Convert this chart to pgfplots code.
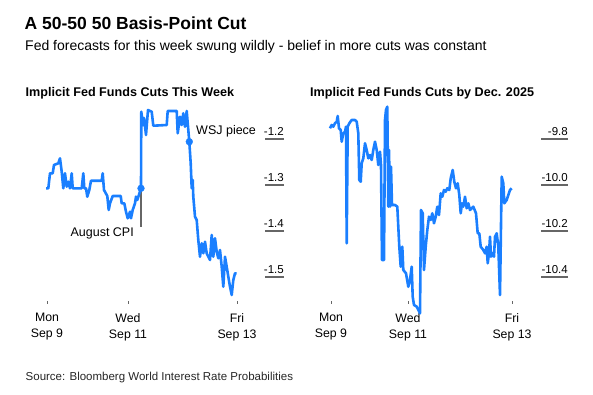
\documentclass[border=0pt]{standalone}
\usepackage{pgfplots}
\pgfplotsset{compat=1.18}
\usepackage{fontspec}
\setmainfont{Liberation Sans}
\definecolor{bbblue}{HTML}{1A7FFF}
\definecolor{tickgray}{HTML}{666666}
\begin{document}
\begin{tikzpicture}
\useasboundingbox (0,0) rectangle (593bp,395bp);
% titles
\node[anchor=base west, inner sep=0pt, font=\fontsize{17.5bp}{21bp}\selectfont\bfseries] at (24.5bp,365.7bp) {A 50-50 50 Basis-Point Cut};
\node[anchor=base west, inner sep=0pt, font=\fontsize{14bp}{17bp}\selectfont] at (25bp,344.3bp) {Fed forecasts for this week swung wildly - belief in more cuts was constant};
\node[anchor=base west, inner sep=0pt, font=\fontsize{12.6bp}{15bp}\selectfont\bfseries] at (25.5bp,298.3bp) {Implicit Fed Funds Cuts This Week};
\node[anchor=base west, inner sep=0pt, font=\fontsize{12.6bp}{15bp}\selectfont\bfseries] at (310bp,298.3bp) {Implicit Fed Funds Cuts by Dec. 2025};
\node[anchor=base west, inner sep=0pt, font=\fontsize{11.5bp}{14bp}\selectfont, text=black!85] at (25.5bp,15bp) {Source: Bloomberg World Interest Rate Probabilities};

\pgfplotsset{
  bbstyle/.style={
    anchor=south west, scale only axis, clip=false,
    axis line style={draw=none},
    tick align=inside,
    xtick pos=bottom, ytick pos=right, yticklabel pos=right,
    xtick style={draw=tickgray, line width=0.9bp, /pgfplots/major tick length=3bp},
    ytick style={draw=tickgray, line width=1.1bp},
    yticklabel style={anchor=south east, inner sep=0pt, yshift=3bp, font=\fontsize{11.5bp}{13bp}\selectfont},
    xticklabel style={align=center, anchor=north, inner sep=0pt, yshift=-9bp, font=\fontsize{12.3bp}{16bp}\selectfont},
    minor tick num=0,
  }
}

\begin{axis}[bbstyle,
  at={(35bp,91bp)}, width=249bp, height=199bp,
  xmin=35, xmax=284, ymin=-1.558696, ymax=-1.126087,
  xtick={47,128,237}, xticklabels={{Mon\\Sep 9},{Wed\\Sep 11},{Fri\\Sep 13}},
  ytick={-1.5,-1.4,-1.3,-1.2}, yticklabels={-1.5,-1.4,-1.3,-1.2},
  ytick style={/pgfplots/major tick length=19bp},
]
\addplot[draw=tickgray, line width=1.1bp] coordinates {(141,-1.3072) (141,-1.3913)};
\addplot[draw=bbblue, line width=2.6bp, line join=round] coordinates {
(46,-1.3072) (48.3,-1.3072) (50,-1.2746) (52.7,-1.2746) (54,-1.2565) (58.3,-1.2528)
(60,-1.242) (61.7,-1.2711) (63.3,-1.3072) (65,-1.2746) (66.7,-1.3037) (68.3,-1.2928)
(70,-1.3072) (71.7,-1.2746) (72.7,-1.3072) (81.7,-1.3072) (83.3,-1.2746) (84.3,-1.3072)
(86,-1.3072) (87.3,-1.3254) (89.3,-1.3109) (91,-1.2907) (101.7,-1.2907) (102.7,-1.2746)
(104,-1.3109) (107.3,-1.3239) (108.7,-1.3543) (110,-1.3398) (112.7,-1.3239) (120.7,-1.3239)
(121.7,-1.3398) (124.3,-1.3398) (126,-1.358) (127.7,-1.3724) (130,-1.358) (131,-1.3724)
(132.7,-1.3543) (135,-1.3398) (136,-1.3254) (137.3,-1.3326) (141,-1.3072)
(141.3,-1.1407) (143,-1.1696) (144,-1.1543) (146,-1.1913) (148,-1.137) (151.7,-1.1407)
(153.3,-1.1711) (166.7,-1.1696) (167.7,-1.1391) (176.7,-1.1391) (177.7,-1.1876) (180,-1.1515)
(181.7,-1.1696) (183.3,-1.1441) (185,-1.1733) (186.7,-1.1391) (189.3,-1.2059)
(190.7,-1.2528) (191.7,-1.3072) (192.7,-1.2891) (193.3,-1.3254) (195,-1.3689) (196.7,-1.3761)
(198.3,-1.4196) (200,-1.4559) (201.7,-1.4267) (203.3,-1.4485) (205,-1.4233) (206.7,-1.4485)
(210,-1.463) (211.7,-1.4087) (213.3,-1.4559) (215,-1.4159) (216.7,-1.445) (218.3,-1.4593)
(220,-1.4413) (221.7,-1.4776) (223.3,-1.5211) (225,-1.4559) (226.7,-1.4776) (228.3,-1.4993)
(230,-1.5211) (231.7,-1.5391) (233.3,-1.5065) (235,-1.492) (236.7,-1.492)
};
\addplot[only marks, mark=*, mark size=3.4bp, color=bbblue] coordinates {(141,-1.3072) (189.3,-1.2059)};
\node[anchor=base west, inner sep=0pt, font=\fontsize{12.5bp}{15bp}\selectfont] at (axis cs:196,-1.1898) {WSJ piece};
\node[anchor=base east, inner sep=0pt, font=\fontsize{12.5bp}{15bp}\selectfont] at (axis cs:134,-1.4124) {August CPI};
\end{axis}

\begin{axis}[bbstyle,
  at={(320bp,91bp)}, width=248bp, height=199bp,
  xmin=320, xmax=568, ymin=-10.517391, ymax=-9.652174,
  xtick={331,408,512}, xticklabels={{Mon\\Sep 9},{Wed\\Sep 11},{Fri\\Sep 13}},
  ytick={-10.4,-10.2,-10.0,-9.8}, yticklabels={-10.4,-10.2,-10.0,-9.8},
  ytick style={/pgfplots/major tick length=27bp},
]
\addplot[draw=bbblue, line width=2.6bp, line join=round] coordinates {
(330,-9.7535) (331.7,-9.7391) (333.3,-9.7465) (335,-9.7317) (336.7,-9.7248) (337.7,-9.70)
(339,-9.7535) (340.7,-9.7609) (341.7,-9.8117) (343.3,-9.7752) (345,-9.7683) (346,-9.7465)
(346.7,-10.2535) (347.7,-9.7465) (349.3,-9.7317) (351.7,-9.7174) (355,-9.7174) (356.7,-9.7248)
(358.3,-9.7752) (359.3,-9.9783) (360.7,-9.9857) (361.7,-9.9057) (363.3,-9.8839) (365,-9.8187)
(366.7,-9.8478) (368.3,-9.8839) (370,-9.8696) (371.7,-9.8913) (373.3,-9.8478) (375,-9.8117)
(376.7,-9.8478) (378.3,-9.913) (380,-9.8552) (381,-9.913) (382,-10.3261) (384,-10.3261)
(385,-9.7174) (386,-9.6739) (387.3,-9.6596) (388.3,-10.0943) (389,-9.8478) (390,-10.0943)
(391,-9.9204) (392,-10.087) (395,-10.087) (397.3,-10.0943) (399.3,-10.2683) (400.7,-10.3552)
(402.3,-10.2683) (403.3,-10.3696) (406,-10.3839) (408.3,-10.4422) (410,-10.413) (411.7,-10.3552)
(412.7,-10.4857) (414,-10.5217) (416.7,-10.5291) (420,-10.5578) (421,-10.1087) (422.7,-10.123)
(424,-10.3696) (425.7,-10.2683) (427.3,-10.1957) (429,-10.1378) (430.7,-10.1522) (432.3,-10.123)
(434,-10.1665) (435.7,-10.1378) (437.3,-10.0943) (439,-10.1304) (440.7,-10.0361) (442.3,-10.0509)
(444,-10.0217) (445.7,-10.0291) (447.3,-10.0143) (449.3,-10.0217) (450.7,-9.9709) (452.7,-9.9348)
(454.3,-9.9857) (456,-10.0143) (457.7,-9.9926) (459.3,-10.0435) (460.7,-10.123) (462,-10.0796)
(463.3,-10.0943) (465,-10.0509) (466.7,-10.1013) (468.3,-10.0796) (470,-10.1087) (473.3,-10.0943)
(476,-10.123) (477.7,-10.21) (479.3,-10.21) (480.7,-10.2683) (483.3,-10.2826) (485,-10.297)
(486.7,-10.2683) (487.7,-10.3404) (489,-10.297) (490,-10.2248) (491,-10.3117) (492.7,-10.297)
(494,-10.3117) (495,-10.2248) (496.7,-10.21) (498.3,-10.2683) (500,-10.4783) (501.7,-9.9639)
(503.3,-9.9926) (504.3,-10.0796) (506.7,-10.0652) (508.3,-10.0435) (510,-10.0217) (511.7,-10.0143)
};
\end{axis}
\end{tikzpicture}
\end{document}
